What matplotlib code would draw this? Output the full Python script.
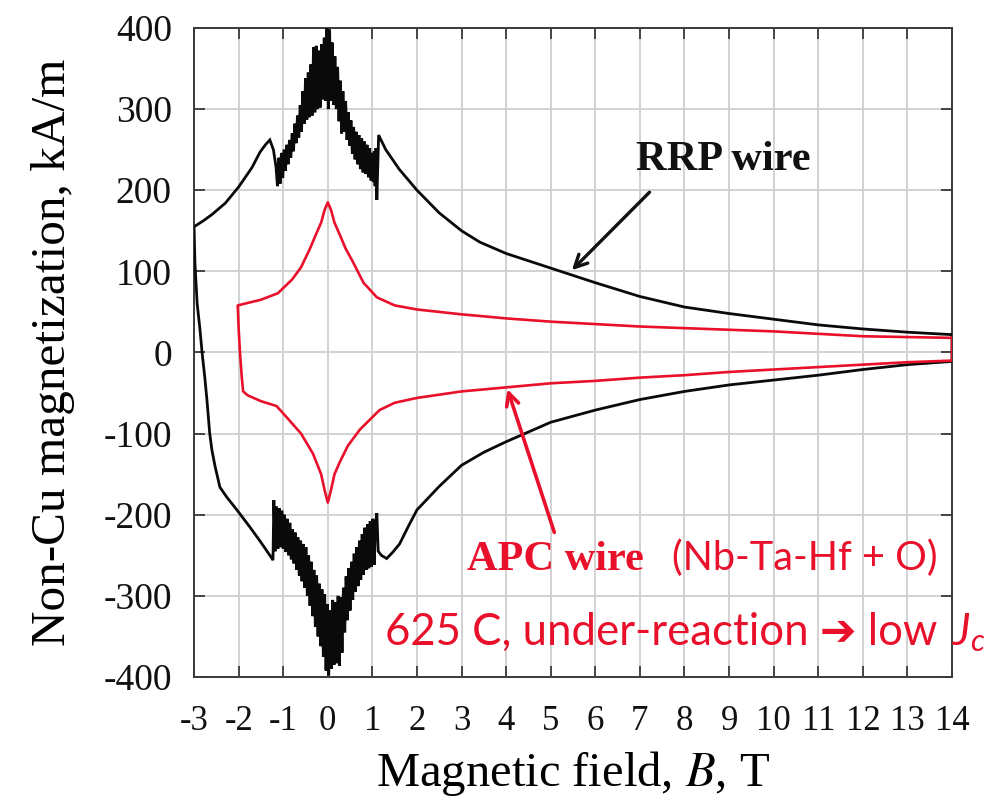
import matplotlib
matplotlib.use("Agg")
import matplotlib.pyplot as plt

plt.rcParams['font.family'] = ['Liberation Serif', 'DejaVu Serif']
plt.rcParams['axes.unicode_minus'] = False
plt.rcParams['mathtext.fontset'] = 'custom'
plt.rcParams['mathtext.it'] = 'Lato:italic'
plt.rcParams['mathtext.rm'] = 'Lato'

# ---------------- data ----------------
# RRP wire, upper branch (field decreasing 14 -> -3 T)
rrp_up_right_B = [14, 13, 12, 11, 10, 9, 8, 7, 6, 5, 4, 3.41, 3.0, 2.5, 2.0, 1.6, 1.3, 1.14]
rrp_up_right_M = [22, 25, 29, 34, 41, 48, 56, 69, 86, 104, 122, 136, 150, 172, 200, 226, 250, 268]
rrp_up_jump_B = [1.10, 1.08, 1.06, 1.04, 1.02, 1.00, 0.97, 0.94, 0.91, 0.88, 0.85, 0.82, 0.79,
                 0.76, 0.73, 0.70, 0.67, 0.64, 0.61, 0.58, 0.55, 0.52, 0.49, 0.46, 0.43, 0.40,
                 0.37, 0.34, 0.31, 0.28, 0.25, 0.22, 0.19, 0.16, 0.13, 0.10, 0.07, 0.04, 0.01,
                 -0.02, -0.05, -0.08, -0.11, -0.14, -0.17, -0.20, -0.23, -0.26, -0.29, -0.32,
                 -0.35, -0.38, -0.41, -0.44, -0.47, -0.50, -0.53, -0.56, -0.59, -0.62, -0.65,
                 -0.68, -0.71, -0.74, -0.77, -0.80, -0.83, -0.86, -0.89, -0.92, -0.95, -0.98,
                 -1.01, -1.04, -1.07, -1.10, -1.13, -1.16]
rrp_up_jump_M = [188, 252, 205, 248, 210, 246, 212, 252, 216, 256, 220, 260, 222,
                 264, 226, 268, 232, 272, 238, 278, 245, 286, 255, 296, 262, 310,
                 272, 322, 270, 335, 285, 352, 300, 365, 305, 382, 310, 398, 300,
                 400, 310, 388, 312, 380, 302, 372, 300, 378, 296, 376,
                 292, 355, 290, 345, 287, 338, 282, 322, 272, 305, 265,
                 292, 258, 282, 248, 270, 240, 262, 232, 256, 224, 250,
                 215, 246, 208, 240, 205, 228]
rrp_up_left_B = [-1.22, -1.30, -1.40, -1.52, -1.70, -2.0, -2.3, -2.6, -2.8, -3.0]
rrp_up_left_M = [250, 262, 256, 247, 228, 204, 184, 170, 162, 155]

# RRP wire, lower branch (field increasing -3 -> 14 T)
rrp_lo_left_B = [-3.0, -2.98, -2.93, -2.87, -2.82, -2.76, -2.71, -2.65, -2.6, -2.53,
                 -2.42, -2.27, -2.04, -1.75, -1.5, -1.3, -1.23]
rrp_lo_left_M = [155, 110, 60, 30, 0, -30, -59, -99, -120, -140,
                 -166, -178, -194, -215, -234, -250, -256]
rrp_lo_jump_B = [-1.21, -1.18, -1.15, -1.12, -1.09, -1.06, -1.03, -1.00, -0.97, -0.94,
                 -0.91, -0.88, -0.85, -0.82, -0.79, -0.76, -0.73, -0.70, -0.67, -0.64,
                 -0.61, -0.58, -0.55, -0.52, -0.49, -0.46, -0.43, -0.40, -0.37, -0.34,
                 -0.31, -0.28, -0.25, -0.22, -0.19, -0.16, -0.13, -0.10, -0.07, -0.04,
                 -0.01, 0.02, 0.05, 0.08, 0.11, 0.14, 0.17, 0.20, 0.23, 0.26, 0.29,
                 0.32, 0.35, 0.38, 0.41, 0.44, 0.47, 0.50, 0.53, 0.56, 0.59, 0.62,
                 0.65, 0.68, 0.71, 0.74, 0.77, 0.80, 0.83, 0.86, 0.89, 0.92, 0.95,
                 0.98, 1.01, 1.04, 1.07, 1.10, 1.13]
rrp_lo_jump_M = [-182, -245, -190, -242, -192, -240, -195, -242, -200, -246,
                 -205, -250, -210, -255, -218, -260, -222, -268, -228, -275,
                 -232, -282, -236, -290, -240, -300, -250, -312, -258, -325,
                 -268, -338, -275, -350, -285, -362, -292, -375, -298, -392,
                 -310, -398, -318, -390, -305, -385, -308, -383, -300, -386, -302,
                 -370, -290, -345, -276, -330, -266, -318, -258, -305, -248, -295,
                 -240, -288, -232, -280, -224, -274, -216, -268, -212, -266, -208,
                 -264, -205, -262, -210, -198, -245]
rrp_lo_right_B = [1.2, 1.32, 1.46, 1.61, 1.8, 2.0, 2.5, 3.0, 3.5, 4, 5, 6, 7, 8, 9,
                  10, 11, 12, 13, 14, 14]
rrp_lo_right_M = [-250, -254, -246, -236, -215, -194, -165, -139, -123, -110, -86, -71,
                  -58, -48, -40, -34, -28, -21, -15, -11, 22]

# APC wire loop
apc_up_B = [14, 13, 12, 11, 10, 9, 8, 7, 6, 5, 4, 3.41, 3.0, 2.5, 2.0, 1.5, 1.1, 0.8,
            0.56, 0.4, 0.27, 0.15, 0.07, 0.0, -0.07, -0.15, -0.27, -0.4, -0.6, -0.8,
            -1.12, -1.5, -1.8, -2.02]
apc_up_M = [18, 19, 20, 23, 26, 28, 30, 32, 35, 38, 42, 45, 47, 50, 53, 58, 68, 86,
            112, 128, 145, 160, 176, 185, 176, 160, 145, 128, 105, 90,
            73, 65, 61, 58]
apc_lo_B = [-2.0, -1.97, -1.93, -1.9, -1.79, -1.5, -1.15, -0.92, -0.6, -0.33, -0.15,
            -0.07, 0.0, 0.07, 0.15, 0.27, 0.45, 0.72, 0.94, 1.16, 1.5, 2.0, 3.0, 4.0,
            5.0, 6.0, 6.5, 7, 8, 9, 10, 11, 12, 13, 14, 14]
apc_lo_M = [30, 0, -30, -48, -53, -60, -66, -80, -100, -125, -150,
            -170, -185, -170, -150, -135, -115, -95, -83, -71, -62, -56, -48, -43,
            -38, -35, -33, -31, -28, -24, -21, -18, -15, -12, -10, 18]

x_ticks = list(range(-3, 15))
y_ticks = list(range(-400, 401, 100))

# ---------------- figure ----------------
fig = plt.figure(figsize=(9.84, 7.99), dpi=100)
ax = fig.add_axes([0.1972, 0.1527, 0.7703, 0.8123])

red = '#e8102a'
black = '#0a0a0a'

rrp_B = rrp_up_right_B + rrp_up_jump_B + rrp_up_left_B + rrp_lo_left_B + rrp_lo_jump_B + rrp_lo_right_B
rrp_M = rrp_up_right_M + rrp_up_jump_M + rrp_up_left_M + rrp_lo_left_M + rrp_lo_jump_M + rrp_lo_right_M
ax.plot(rrp_B, rrp_M, color=black, lw=2.0, solid_joinstyle='miter', zorder=3)

apc_B = apc_up_B + apc_lo_B
apc_M = apc_up_M + apc_lo_M
ax.plot(apc_B, apc_M, color=red, lw=1.9, zorder=3)

ax.set_xlim(-3, 14)
ax.set_ylim(-400, 400)
ax.set_xticks(x_ticks)
ax.set_yticks(y_ticks)
ax.set_xticklabels([str(t) for t in x_ticks])
ax.set_yticklabels([str(t) for t in y_ticks])
ax.grid(True, color='#d2d2d2', lw=1.4)
ax.set_axisbelow(True)
for s in ax.spines.values():
    s.set_color('#3a3a3a')
    s.set_linewidth(1.4)
ax.tick_params(axis='both', direction='in', length=8, width=1.3, color='#3a3a3a',
               top=True, right=True, labelcolor='#111111')
ax.tick_params(axis='x', pad=20, labelsize=25)
ax.tick_params(axis='y', pad=16, labelsize=27)

ax.set_xlabel('Magnetic field, $B$, T', fontsize=35, math_fontfamily='stix', va='center')
ax.xaxis.set_label_coords(0.5, -0.148)
ax.set_ylabel('Non-Cu magnetization, kA/m', fontsize=35.5, va='center')
ax.yaxis.set_label_coords(-0.186, 0.5)

# annotations
ax.text(8.88, 225, 'RRP wire', fontsize=30.5, fontweight='bold', ha='center',
        va='baseline', color='#111111')
ax.annotate('', xy=(5.43, 99), xytext=(7.26, 200),
            arrowprops=dict(arrowstyle='->,head_length=0.9,head_width=0.45',
                            color='#111111', lw=2.4))

ax.text(3.12, -268, 'APC wire', fontsize=30.5, fontweight='bold', ha='left',
        va='baseline', color=red)
ax.text(7.71, -268, '(Nb-Ta-Hf + O)', fontsize=28.5, ha='left', va='baseline',
        color=red, family=['Lato', 'DejaVu Sans'])
ax.text(1.28, -361, '625 C, under-reaction \u2794 low', fontsize=31.5, ha='left',
        va='baseline', color=red, family=['Lato', 'DejaVu Sans'])
ax.text(13.99, -361, '$J_c$', fontsize=31.5, ha='left', va='baseline', color=red,
        math_fontfamily='custom', clip_on=False)
ax.annotate('', xy=(4.01, -42), xytext=(5.1, -225),
            arrowprops=dict(arrowstyle='->,head_length=0.9,head_width=0.45',
                            color=red, lw=2.6))

fig.savefig('out.png', dpi=100)
